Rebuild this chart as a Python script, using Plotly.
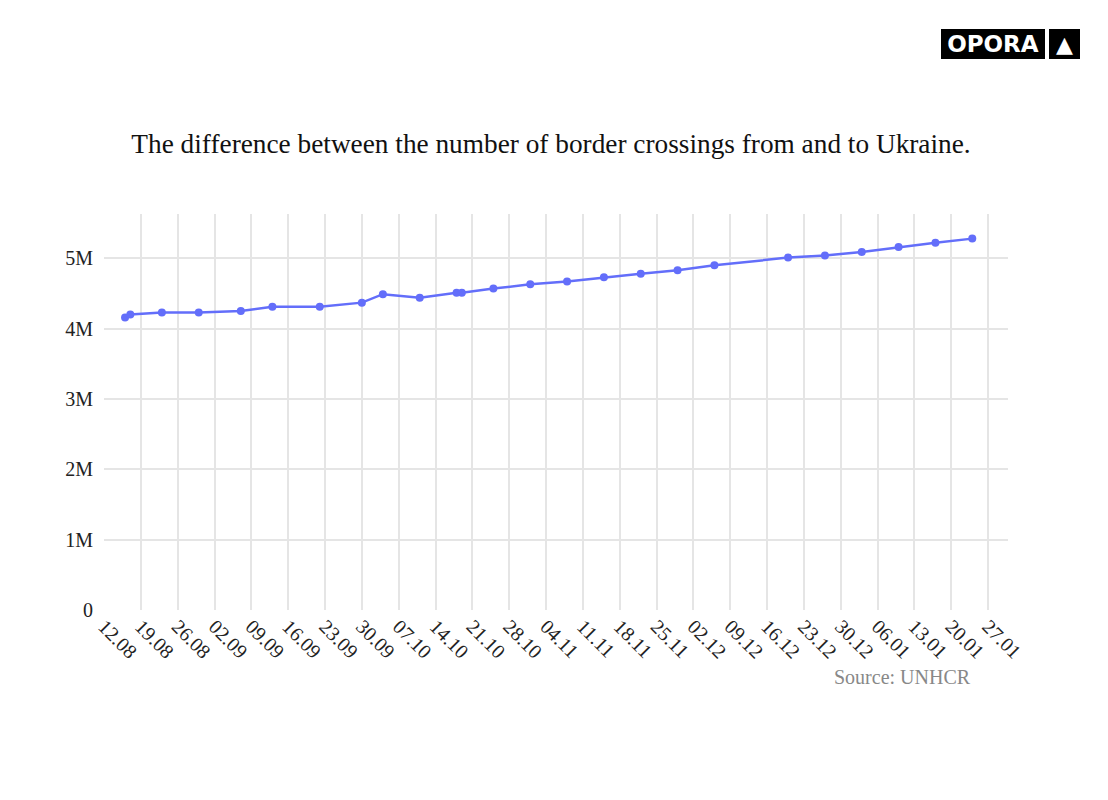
import plotly.graph_objects as go

dates = ["2022-08-16", "2022-08-17", "2022-08-23", "2022-08-30", "2022-09-07",
         "2022-09-13", "2022-09-22", "2022-09-30", "2022-10-04", "2022-10-11",
         "2022-10-18", "2022-10-19", "2022-10-25", "2022-11-01", "2022-11-08",
         "2022-11-15", "2022-11-22", "2022-11-29", "2022-12-06", "2022-12-20",
         "2022-12-27", "2023-01-03", "2023-01-10", "2023-01-17", "2023-01-24"]
values = [4.16e6, 4.20e6, 4.23e6, 4.23e6, 4.25e6,
          4.31e6, 4.31e6, 4.37e6, 4.49e6, 4.44e6,
          4.51e6, 4.51e6, 4.57e6, 4.63e6, 4.67e6,
          4.73e6, 4.78e6, 4.83e6, 4.90e6, 5.01e6,
          5.04e6, 5.09e6, 5.16e6, 5.22e6, 5.28e6]

title_text = "The difference between the number of border crossings from and to Ukraine."
source_text = "Source: UNHCR"

fig = go.Figure(go.Scatter(
    x=dates, y=values, mode="lines+markers",
    line=dict(color="#636efa", width=2.5),
    marker=dict(color="#636efa", size=8),
))

serif = "Liberation Serif, Times New Roman, serif"

fig.update_layout(
    width=1108, height=800,
    paper_bgcolor="white", plot_bgcolor="white",
    margin=dict(l=96, r=108, t=206, b=198),
    font=dict(family=serif, size=20, color="#222"),
    title=dict(text=title_text, x=(551 - 8) / 1108, xanchor="center", y=1 - (143 - 8) / 800,
               yanchor="middle", font=dict(family=serif, size=27.3, color="#111")),
    showlegend=False,
    xaxis=dict(
        type="date", range=["2022-08-12", "2023-01-30 19:00"],
        tick0="2022-08-12", dtick=7 * 24 * 3600 * 1000, tickformat="%d.%m",
        tickangle=45, showgrid=True, gridcolor="#e5e5e5", gridwidth=1.5,
        zeroline=False, showline=False, ticks="", tickfont=dict(size=20, color="#222"),
    ),
    yaxis=dict(
        range=[0, 5.63e6], dtick=1e6, tickformat="~s", showgrid=True,
        gridcolor="#e5e5e5", gridwidth=1.5, zeroline=False, showline=False,
        tickfont=dict(size=20, color="#222"), ticks="", ticklabelstandoff=10,
    ),
    annotations=[
        dict(text=source_text, xref="paper", yref="paper", x=(973 - 104) / 904, y=-(677 - 610) / 396,
             xanchor="right", yanchor="middle", showarrow=False,
             font=dict(family=serif, size=20, color="#888")),
        dict(text="<b>OPORA</b>", xref="paper", yref="paper",
             x=(941 - 104) / 904, y=1 + (214 - 44) / 396, xanchor="left", yanchor="middle",
             showarrow=False, bgcolor="black", width=98, height=24, borderpad=2, borderwidth=1,
             bordercolor="black",
             font=dict(family="DejaVu Sans, sans-serif", size=23, color="white")),
        dict(text="▲", xref="paper", yref="paper",
             x=(1049 - 104) / 904, y=1 + (214 - 44) / 396, xanchor="left", yanchor="middle",
             showarrow=False, bgcolor="black", width=25, height=24, borderpad=2, borderwidth=1,
             bordercolor="black",
             font=dict(family="DejaVu Sans, sans-serif", size=22, color="white")),
    ],
)

fig.write_html("out.html")
